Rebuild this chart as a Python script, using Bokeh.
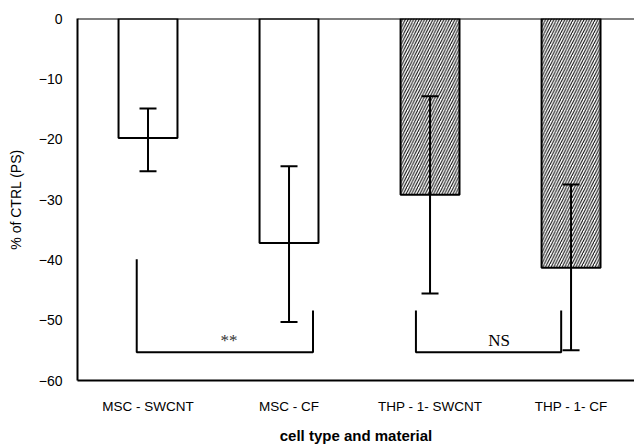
from bokeh.plotting import figure
from bokeh.models import (ColumnDataSource, Range1d, FixedTicker, Whisker, TeeHead,
                          Span, Label)
from bokeh.embed import file_html
from bokeh.resources import INLINE

# ---- data ----
categories = ["MSC - SWCNT", "MSC - CF", "THP - 1- SWCNT", "THP - 1- CF"]
means = [-19.8, -37.2, -29.2, -41.3]
err_upper = [-14.9, -24.5, -12.9, -27.5]
err_lower = [-25.3, -50.3, -45.6, -55.0]
hatched = [False, False, True, True]
y_ticks = [0, -10, -20, -30, -40, -50, -60]

# significance brackets
br_x_left = [0.42, 2.40]
br_x_right = [1.67, 3.43]
br_y_left_top = [-39.9, -48.4]
br_y_right_top = [-48.4, -48.4]
br_y_bottom = [-55.3, -55.3]
br_labels = ["**", "NS"]
br_label_x = [1.075, 2.99]
br_label_y = [-53.4, -53.4]

xpos = [i + 0.5 for i in range(len(categories))]

p = figure(width=634, height=447, output_backend="svg", toolbar_location=None,
           x_range=Range1d(0, 3.95), y_range=Range1d(-60, 0),
           min_border_left=77, min_border_right=0, min_border_top=18,
           min_border_bottom=67)
p.outline_line_color = None
p.grid.grid_line_color = None
p.background_fill_color = "white"

plain = ColumnDataSource(dict(x=[x for x, h in zip(xpos, hatched) if not h],
                              top=[m for m, h in zip(means, hatched) if not h]))
hatch = ColumnDataSource(dict(x=[x for x, h in zip(xpos, hatched) if h],
                              top=[m for m, h in zip(means, hatched) if h]))

p.vbar(x="x", top="top", bottom=0, width=0.418, source=plain,
       fill_color="white", line_color="black", line_width=2)
p.vbar(x="x", top="top", bottom=0, width=0.418, source=hatch,
       fill_color="white", line_color="black", line_width=2,
       hatch_pattern="/", hatch_color="black", hatch_scale=5.5, hatch_weight=1)

err = ColumnDataSource(dict(x=xpos, upper=err_upper, lower=err_lower))
w = Whisker(source=err, base="x", upper="upper", lower="lower", dimension="height",
            line_color="black", line_width=2, level="overlay",
            upper_head=TeeHead(size=17, line_width=2, line_color="black"),
            lower_head=TeeHead(size=17, line_width=2, line_color="black"))
p.add_layout(w)

xs = [[xl, xl, xr, xr] for xl, xr in zip(br_x_left, br_x_right)]
ys = [[yl, yb, yb, yr] for yl, yr, yb in zip(br_y_left_top, br_y_right_top, br_y_bottom)]
p.multi_line(xs=xs, ys=ys, line_color="black", line_width=2)

for lx, ly, txt in zip(br_label_x, br_label_y, br_labels):
    p.add_layout(Label(x=lx, y=ly, text=txt, text_align="center",
                       text_baseline="middle", text_font="Liberation Serif",
                       text_font_size="17px",
                       text_color="#333333" if txt == "**" else "black"))

p.add_layout(Span(location=0, dimension="width", line_color="black", line_width=2))

# axes
p.yaxis.ticker = FixedTicker(ticks=y_ticks)
p.yaxis.major_tick_line_color = None
p.yaxis.minor_tick_line_color = None
p.yaxis.axis_line_width = 2
p.yaxis.axis_line_color = "black"
p.yaxis.major_label_text_font = "Liberation Sans"
p.yaxis.major_label_text_font_size = "14px"
p.yaxis.major_label_text_color = "black"
p.yaxis.major_label_standoff = 9
p.yaxis.axis_label = "% of CTRL (PS)"
p.yaxis.axis_label_text_font = "Liberation Sans"
p.yaxis.axis_label_text_font_size = "14px"
p.yaxis.axis_label_text_font_style = "normal"
p.yaxis.axis_label_text_color = "black"
p.yaxis.axis_label_standoff = 12

p.xaxis.ticker = FixedTicker(ticks=xpos)
p.xaxis.major_label_overrides = {x: c for x, c in zip(xpos, categories)}
p.xaxis.major_tick_line_color = None
p.xaxis.minor_tick_line_color = None
p.xaxis.axis_line_width = 2
p.xaxis.axis_line_color = "black"
p.xaxis.major_label_text_font = "Liberation Sans"
p.xaxis.major_label_text_font_size = "13.5px"
p.xaxis.major_label_text_color = "black"
p.xaxis.major_label_standoff = 12
p.xaxis.axis_label = "cell type and material"
p.xaxis.axis_label_text_font = "Liberation Sans"
p.xaxis.axis_label_text_font_size = "15px"
p.xaxis.axis_label_text_font_style = "bold"
p.xaxis.axis_label_text_color = "black"
p.xaxis.axis_label_standoff = 10

open("out.html", "w").write(file_html(p, INLINE))
